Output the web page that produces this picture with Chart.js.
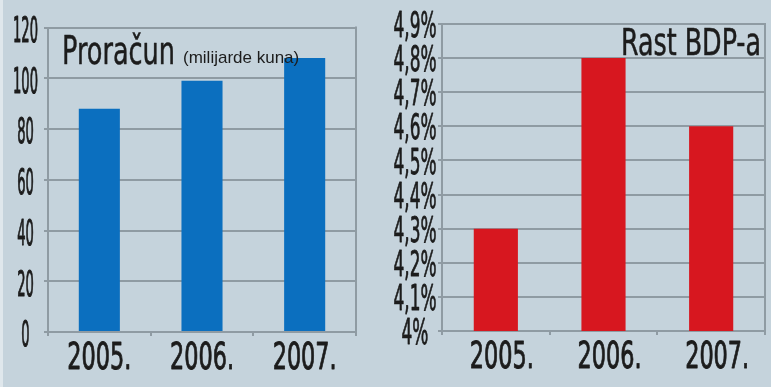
<!DOCTYPE html>
<html><head><meta charset="utf-8">
<script src="https://cdn.jsdelivr.net/npm/chart.js@4"></script>
<style>
html,body{margin:0;padding:0;background:#c5d3dc;width:771px;height:387px;overflow:hidden}
#strip{position:absolute;left:0;top:0;width:3px;height:387px;background:#dfe7ec}
#w1{position:absolute;left:0;top:0;width:385px;height:387px}
#w2{position:absolute;left:385px;top:0;width:386px;height:387px}
</style></head><body>
<div id="strip"></div>
<div id="w1"><canvas id="c1"></canvas></div>
<div id="w2"><canvas id="c2"></canvas></div>
<script>
// ---- data ----
const years = ['2005.', '2006.', '2007.'];
const budgetValues = [88, 99, 108];
const budgetTicks = [0, 20, 40, 60, 80, 100, 120];
const gdpValues = [4.3, 4.8, 4.6];
const gdpTicks = [4.0, 4.1, 4.2, 4.3, 4.4, 4.5, 4.6, 4.7, 4.8, 4.9];
const gdpTickLabels = ['4%', '4,1%', '4,2%', '4,3%', '4,4%', '4,5%', '4,6%', '4,7%', '4,8%', '4,9%'];
const budgetTitle = 'Proračun';
const budgetSubtitle = '(milijarde kuna)';
const gdpTitle = 'Rast BDP-a';

// ---- style ----
const FONT = '"Liberation Sans Narrow", "DejaVu Sans Condensed", sans-serif';
const TEXT = '#1c1c1c';
const GRID = '#8f9ba3';
const BLUE = '#0b6fbf';
const RED = '#d7171f';
// condensed look: per font size, a sample string, the width it should occupy, extra stroke weight
const FIT = {
  36: [String(budgetTicks[budgetTicks.length - 1]), 25, 1.1],
  35: [gdpTickLabels[gdpTickLabels.length - 1], 43, 0.8],
  38: [years[0], 64, 0.9],
  39: [budgetTitle, 113, 0.5],
  37: [gdpTitle, 140, 0.5]
};

function condense(ctx) {
  const P = CanvasRenderingContext2D.prototype;
  const cache = {};
  const sx = () => {
    const f = ctx.font;
    if (f in cache) return cache[f];
    const m = /(\d+(?:\.\d+)?)px/.exec(f);
    const fit = m && FIT[Math.round(+m[1])];
    let r = [1, 0];
    if (fit) r = [fit[1] / P.measureText.call(ctx, fit[0]).width, fit[2]];
    cache[f] = r;
    return r;
  };
  ctx.fillText = function (t, x, y) {
    const [s, w] = sx();
    if (s === 1) return P.fillText.call(this, t, x, y);
    this.save(); this.translate(x, y); this.scale(s, 1);
    P.fillText.call(this, t, 0, 0);
    if (w > 0) {
      this.strokeStyle = this.fillStyle; this.lineWidth = w; this.lineJoin = 'round';
      P.strokeText.call(this, t, 0, 0);
    }
    this.restore();
  };
  ctx.measureText = function (t) {
    const [s] = sx();
    const m = P.measureText.call(this, t);
    return {width: m.width * s, actualBoundingBoxAscent: m.actualBoundingBoxAscent, actualBoundingBoxDescent: m.actualBoundingBoxDescent};
  };
}

function rightBorder() {
  return {
    id: 'rightBorder',
    beforeDatasetsDraw(chart) {
      const {ctx, chartArea: a} = chart;
      ctx.save(); ctx.strokeStyle = GRID; ctx.lineWidth = 2;
      ctx.beginPath(); ctx.moveTo(a.right, a.top - 1); ctx.lineTo(a.right, a.bottom); ctx.stroke();
      ctx.restore();
    }
  };
}

const budgetTitlePlugin = {
  id: 'budgetTitle',
  afterDatasetsDraw(chart) {
    const {ctx, chartArea: a} = chart;
    ctx.save(); ctx.fillStyle = TEXT; ctx.textBaseline = 'alphabetic'; ctx.textAlign = 'left';
    ctx.font = '39px ' + FONT;
    const x = a.left + 14, y = a.top + 36;
    ctx.fillText(budgetTitle, x, y);
    const w = ctx.measureText(budgetTitle).width;
    ctx.font = '17px "Liberation Sans", sans-serif';
    ctx.fillText(budgetSubtitle, x + w + 8, y - 1);
    ctx.restore();
  }
};
const gdpTitlePlugin = {
  id: 'gdpTitle',
  afterDatasetsDraw(chart) {
    const {ctx, chartArea: a} = chart;
    ctx.save(); ctx.fillStyle = TEXT; ctx.textBaseline = 'alphabetic'; ctx.textAlign = 'right';
    ctx.font = '37px ' + FONT;
    ctx.fillText(gdpTitle, a.right - 4, a.top + 31);
    ctx.restore();
  }
};

function baseOptions(pad, yWidth, xHeight, xOffset) {
  return {
    animation: false, responsive: true, maintainAspectRatio: false,
    layout: {padding: pad},
    plugins: {legend: {display: false}, tooltip: {enabled: false}},
    scales: {
      x: {
        grid: {drawOnChartArea: false, color: GRID, lineWidth: 2, tickLength: 4, offset: true},
        border: {color: GRID, width: 2},
        ticks: {font: {family: FONT, size: 38}, color: TEXT, padding: 0, labelOffset: xOffset, maxRotation: 0, autoSkip: false},
        afterFit: s => { s.height = xHeight; }
      },
      y: {
        grid: {color: GRID, lineWidth: 2, tickLength: 4},
        border: {color: GRID, width: 2},
        afterFit: s => { s.width = yWidth; }
      }
    }
  };
}

// ---- left chart ----
const c1 = document.getElementById('c1').getContext('2d');
condense(c1);
const o1 = baseOptions({top: 24, right: 29, bottom: 0, left: 0}, 48, 55, 0);
Object.assign(o1.scales.y, {
  min: budgetTicks[0], max: budgetTicks[budgetTicks.length - 1],
  afterBuildTicks: s => { s.ticks = budgetTicks.map(v => ({value: v})); },
  ticks: {font: {family: FONT, size: 36}, color: TEXT, padding: 6, crossAlign: 'center', labelOffset: 5, autoSkip: false, callback: v => String(v)}
});
new Chart(c1, {
  type: 'bar',
  data: {labels: years, datasets: [{data: budgetValues, backgroundColor: BLUE, barPercentage: 0.4, categoryPercentage: 1}]},
  options: o1,
  plugins: [rightBorder(), budgetTitlePlugin]
});

// ---- right chart ----
const c2 = document.getElementById('c2').getContext('2d');
condense(c2);
const o2 = baseOptions({top: 24, right: 6, bottom: 0, left: 0}, 57, 56, 6);
Object.assign(o2.scales.y, {
  min: gdpTicks[0], max: gdpTicks[gdpTicks.length - 1],
  afterBuildTicks: s => { s.ticks = gdpTicks.map(v => ({value: v})); },
  ticks: {font: {family: FONT, size: 35}, color: TEXT, padding: 1.5, crossAlign: 'center', labelOffset: 4, autoSkip: false, callback: (v, i) => gdpTickLabels[i]}
});
new Chart(c2, {
  type: 'bar',
  data: {labels: years, datasets: [{data: gdpValues, backgroundColor: RED, barPercentage: 0.41, categoryPercentage: 1}]},
  options: o2,
  plugins: [rightBorder(), gdpTitlePlugin]
});
</script>
</body></html>
